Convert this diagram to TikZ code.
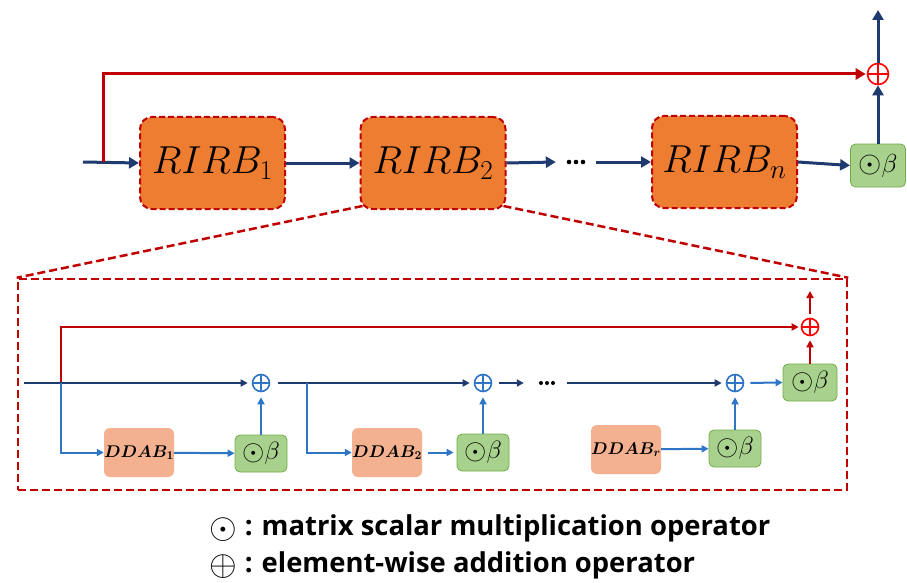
\RequirePackage{fix-cm}
\documentclass[tikz,border=0pt]{standalone}
\usepackage{fontspec}
\setsansfont{Open Sans}
\usetikzlibrary{arrows.meta}
\definecolor{navy}{HTML}{1F3A6E}
\definecolor{dred}{HTML}{C00000}
\definecolor{rorange}{HTML}{ED7D31}
\definecolor{salmon}{HTML}{F4B18F}
\definecolor{gfill}{HTML}{A9D18E}
\definecolor{gline}{HTML}{70AD47}
\definecolor{lblue}{HTML}{2E75C6}
\definecolor{pred}{HTML}{FF0000}
\newcommand{\myobeta}{\raisebox{-0.03em}{\scalebox{1.15}{$\odot$}}$\beta$}
\tikzset{
  rirb/.style={draw=dred, fill=rorange, line width=2pt, dash pattern=on 6pt off 3pt,
     rounded corners=12pt, minimum width=145pt, minimum height=92pt, inner sep=0pt,
     font=\fontsize{39}{42}\selectfont},
  ddab/.style={fill=salmon, rounded corners=6pt, minimum width=70pt, minimum height=49pt,
     inner sep=0pt, font=\fontsize{17}{20}\selectfont\boldmath},
  obox/.style={draw=gline, fill=gfill, line width=0.8pt, rounded corners=5pt,
     minimum width=52pt, minimum height=37pt, inner sep=0pt, font=\fontsize{25}{27}\selectfont},
  oplusnode/.style={circle, draw=#1, line width=1.6pt, minimum size=17pt, inner sep=0pt,
     path picture={\draw[#1, line width=1.6pt] (path picture bounding box.north) -- (path picture bounding box.south)
        (path picture bounding box.west) -- (path picture bounding box.east);}},
  dotsnode/.style={minimum width=40pt, minimum height=10pt, inner sep=0pt},
  bignavy/.style={navy, line width=3pt, -{Triangle[length=10pt, width=11pt]}},
  bigred/.style={dred, line width=3pt, -{Triangle[length=10pt, width=11pt]}},
  inavy/.style={navy, line width=2pt, -{Triangle[length=7pt, width=7pt]}},
  iblue/.style={lblue, line width=2pt, -{Triangle[length=7pt, width=7pt]}},
  ired/.style={dred, line width=2.5pt, -{Triangle[length=7pt, width=7pt]}},
  zoomline/.style={dred, line width=2.5pt, dash pattern=on 8pt off 4pt},
  legend/.style={font=\sffamily\bfseries\fontsize{27.4}{30}\selectfont, inner sep=0pt},
}
\begin{document}
\begin{tikzpicture}[x=1pt, y=-1pt]
\useasboundingbox (0,0) rectangle (907,583);
% ---------- top level ----------
\node[rirb] (r1) at (212.5,163) {$RIRB_1$};
\node[rirb] (r2) at (433,163) {$RIRB_2$};
\node[rirb] (rn) at (724.5,162) {$RIRB_n$};
\node[dotsnode] (d1) at (576,162) {};
\foreach \dx in {-7,0,7} \fill ([xshift=\dx pt]d1.center) circle (2.3pt);
\node[obox, minimum width=55pt, minimum height=43pt, font=\fontsize{26}{28}\selectfont] (ob) at (878,165.5) {\myobeta};
\node[oplusnode=pred, minimum size=21pt] (ot) at (878,74) {};
\coordinate (in) at (83,162);
\coordinate (sb) at (103,162);
\coordinate (out) at (878,10);

\draw[bignavy] (in) -- (r1.west);
\draw[bignavy] (r1.east) -- (r2.west);
\draw[bignavy] (r2.east) -- (d1.west);
\draw[bignavy] (d1.east) -- (rn.west);
\draw[bignavy] (rn.east) -- (ob.west);
\draw[bignavy] (ob.north) -- (ot.south);
\draw[bignavy] (ot.north) -- (out);
\draw[bigred, shorten >=1pt] (sb) |- (ot.west);

% ---------- zoom frame ----------
\node[draw=dred, line width=2.5pt, dash pattern=on 8pt off 4pt, minimum width=829pt, minimum height=211pt, inner sep=0pt] (inner) at (432.5,384.5) {};
\draw[zoomline] ([xshift=3pt, yshift=4pt]r2.south west) -- (inner.north west);
\draw[zoomline] ([xshift=-3pt, yshift=4pt]r2.south east) -- (inner.north east);

% ---------- inner block ----------
\coordinate (iin) at (24,383);
\coordinate (ib1) at (61,383);
\coordinate (ib2) at (307,383);
\coordinate (iout) at (810,291);
\node[oplusnode=lblue] (a1) at (261,383) {};
\node[oplusnode=lblue] (a2) at (483,383) {};
\node[oplusnode=lblue] (a3) at (735,383) {};
\node[oplusnode=pred] (ar) at (810,327) {};
\node[ddab] (dd1) at (139,452.5) {$DDAB_1$};
\node[ddab] (dd2) at (387,452.5) {$DDAB_2$};
\node[ddab] (ddr) at (626,449.5) {$DDAB_r$};
\node[obox] (ob1) at (261,453.5) {\myobeta};
\node[obox] (ob2) at (483,452.5) {\myobeta};
\node[obox] (ob3) at (735,448.5) {\myobeta};
\node[obox, minimum width=54pt] (ob4) at (810,382.5) {\myobeta};
\node[dotsnode] (d2) at (547,383) {};
\foreach \dx in {-6,0,6} \fill ([xshift=\dx pt]d2.center) circle (2pt);

\draw[ired, shorten >=2pt] (ib1) |- (ar.west);
\draw[inavy, shorten >=4pt] (iin) -- (a1.west);
\draw[iblue] (ib1) |- (dd1.west);
\draw[iblue] (dd1) -- (ob1);
\draw[iblue, shorten >=5pt] (ob1) -- (a1);
\draw[navy, line width=2pt] ([xshift=8pt]a1.east) -- (ib2);
\draw[inavy, shorten >=4pt] (ib2) -- (a2.west);
\draw[iblue] (ib2) |- (dd2.west);
\draw[iblue, shorten <=6pt, shorten >=3pt] (dd2) -- (ob2);
\draw[iblue, shorten >=5pt] (ob2) -- (a2);
\draw[inavy, shorten <=7pt, shorten >=3pt] (a2.east) -- (d2.west);
\draw[inavy, shorten >=4pt] (d2.east) -- (a3.west);
\draw[iblue] (ddr) -- (ob3);
\draw[iblue, shorten >=5pt] (ob3) -- (a3);
\draw[iblue, shorten <=6pt] (a3.east) -- (ob4.west);
\draw[ired, shorten >=4pt] (ob4) -- (ar);
\draw[ired, shorten <=4pt] (ar) -- (iout);

% ---------- legend ----------
\node[legend, anchor=base west] (l1) at (209,535) {\raisebox{-0.12em}{\scalebox{1.3}{$\odot$}}\hspace{8pt}:\hspace{9pt}matrix scalar multiplication operator};
\node[legend, anchor=base west] (l2) at (209,572) {\raisebox{-0.12em}{\scalebox{1.3}{$\oplus$}}\hspace{8pt}:\hspace{9pt}element-wise addition operator};
\end{tikzpicture}
\end{document}
